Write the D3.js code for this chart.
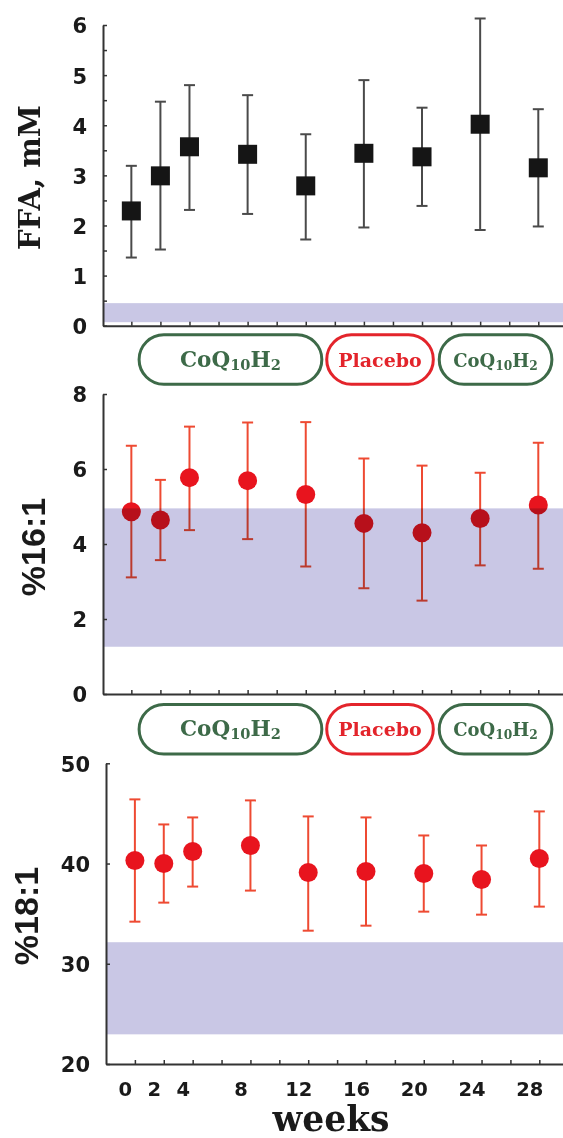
<!DOCTYPE html>
<html>
<head>
<meta charset="utf-8">
<script src="https://cdn.jsdelivr.net/npm/d3@7"></script>
<style>
  body { margin: 0; background: #fff; }
  svg { display: block; }
</style>
</head>
<body>
<div id="chart"></div>
<script>
// weeks of sampling
const weeks = [0, 2, 4, 8, 12, 16, 20, 24, 28]

// FFA, mM
const ffaMean = [2.29, 2.99, 3.57, 3.42, 2.79, 3.44, 3.37, 4.02, 3.15]
const ffaLow = [1.36, 1.52, 2.31, 2.23, 1.72, 1.96, 2.39, 1.91, 1.98]
const ffaHigh = [3.19, 4.47, 4.80, 4.60, 3.82, 4.90, 4.35, 6.13, 4.32]

// %16:1
const p161Mean = [4.86, 4.64, 5.77, 5.69, 5.32, 4.55, 4.30, 4.68, 5.04]
const p161Low = [3.11, 3.57, 4.37, 4.13, 3.40, 2.82, 2.49, 3.43, 3.34]
const p161High = [6.62, 5.71, 7.13, 7.24, 7.25, 6.28, 6.09, 5.90, 6.70]

// %18:1
const p181Mean = [40.3, 40.0, 41.2, 41.8, 39.1, 39.2, 39.0, 38.4, 40.5]
const p181Low = [34.2, 36.1, 37.7, 37.3, 33.3, 33.8, 35.2, 34.9, 35.7]
const p181High = [46.4, 43.9, 44.6, 46.3, 44.7, 44.6, 42.8, 41.8, 45.2]

// reference ranges (shaded bands)
const ffaRef = [0.07, 0.45]
const p161Ref = [1.26, 4.95]
const p181Ref = [22.96, 32.15]

// axis ticks
const ffaTicks = d3.range(0, 6.01, 0.5)
const p161Ticks = [0, 2, 4, 6, 8]
const p181Ticks = [20, 30, 40, 50]
const weekTicks = d3.range(0, 29, 2)
const weekLabels = [0, 2, 4, 8, 12, 16, 20, 24, 28]

// treatment phases (weeks)
const phaseNames = ['CoQ10H2', 'Placebo', 'CoQ10H2']
const phaseStart = [0.43, 13.34, 21.08]
const phaseEnd = [13.21, 20.88, 29.04]
const phaseSize = [21.5, 19, 18]

const width = 563
const height = 1138
const green = '#3d6a48'
const red = '#e3242b'

const svg = d3.select('#chart').append('svg')
  .attr('width', width)
  .attr('height', height)

const panels = [
  {
    mean: ffaMean, low: ffaLow, high: ffaHigh, ref: ffaRef, ticks: ffaTicks,
    yDomain: [0, 6], yRange: [325.7, 25], xDomain: [-1.95, 29.7], xRange: [103, 563],
    marker: 'square', title: 'FFA, mM', titleFont: 'DejaVu Serif', titleSize: 29,
    titleX: 40, titleY: 177.5, barColor: '#4a4a4a', showX: false
  },
  {
    mean: p161Mean, low: p161Low, high: p161High, ref: p161Ref, ticks: p161Ticks,
    yDomain: [0, 8], yRange: [694, 394], xDomain: [-1.95, 29.7], xRange: [103, 563],
    marker: 'circle', title: '%16:1', titleFont: 'Liberation Sans', titleSize: 34,
    titleX: 44.5, titleY: 547, barColor: '#ee4a32', showX: false, pillsTop: 333.3
  },
  {
    mean: p181Mean, low: p181Low, high: p181High, ref: p181Ref, ticks: p181Ticks,
    yDomain: [20, 50], yRange: [1064, 763.3], xDomain: [-2.0, 29.64], xRange: [106, 563],
    marker: 'circle', title: '%18:1', titleFont: 'Liberation Sans', titleSize: 34,
    titleX: 38, titleY: 916, barColor: '#ee4a32', showX: true, pillsTop: 703
  }
]

// pills are laid out on the shared scale of the upper panels
const xPills = d3.scaleLinear().domain(panels[1].xDomain).range(panels[1].xRange)

function drawPills (top) {
  const h = 52.5
  const g = svg.append('g')
  phaseNames.forEach((name, i) => {
    const x0 = xPills(phaseStart[i])
    const x1 = xPills(phaseEnd[i])
    const col = name === 'Placebo' ? red : green
    g.append('rect')
      .attr('x', x0 + 1.5)
      .attr('y', top + 1.5)
      .attr('width', x1 - x0 - 3)
      .attr('height', h - 3)
      .attr('rx', (h - 3) / 2)
      .attr('fill', 'none')
      .attr('stroke', col)
      .attr('stroke-width', 3)
    const t = g.append('text')
      .attr('x', (x0 + x1) / 2)
      .attr('y', top + h / 2 + 7)
      .attr('text-anchor', 'middle')
      .attr('font-family', 'DejaVu Serif')
      .attr('font-weight', 'bold')
      .attr('font-size', phaseSize[i])
      .attr('fill', col)
    // digits are set as subscripts
    const parts = name.match(/\d+|\D+/g)
    let low = false
    parts.forEach(p => {
      const sub = /\d/.test(p)
      const ts = t.append('tspan').text(p)
      if (sub) {
        ts.attr('font-size', phaseSize[i] * 0.68).attr('dy', 3)
        low = true
      } else if (low) {
        ts.attr('dy', -3)
        low = false
      }
    })
  })
}

panels.forEach(p => {
  const x = d3.scaleLinear().domain(p.xDomain).range(p.xRange)
  const y = d3.scaleLinear().domain(p.yDomain).range(p.yRange)
  const g = svg.append('g')

  const rows = weeks.map((w, i) => ({ w, m: p.mean[i], lo: p.low[i], hi: p.high[i] }))

  // error bars
  const bars = g.append('g')
    .attr('stroke', p.barColor)
    .attr('stroke-width', 2)
  bars.selectAll('line.v').data(rows).enter().append('line')
    .attr('x1', d => x(d.w)).attr('x2', d => x(d.w))
    .attr('y1', d => y(d.lo)).attr('y2', d => y(d.hi))
  bars.selectAll('line.hi').data(rows).enter().append('line')
    .attr('x1', d => x(d.w) - 5.5).attr('x2', d => x(d.w) + 5.5)
    .attr('y1', d => y(d.hi)).attr('y2', d => y(d.hi))
  bars.selectAll('line.lo').data(rows).enter().append('line')
    .attr('x1', d => x(d.w) - 5.5).attr('x2', d => x(d.w) + 5.5)
    .attr('y1', d => y(d.lo)).attr('y2', d => y(d.lo))

  // markers
  if (p.marker === 'square') {
    g.selectAll('rect.pt').data(rows).enter().append('rect')
      .attr('x', d => x(d.w) - 9.5)
      .attr('y', d => y(d.m) - 9.5)
      .attr('width', 19)
      .attr('height', 19)
      .attr('fill', '#151515')
  } else {
    g.selectAll('circle').data(rows).enter().append('circle')
      .attr('cx', d => x(d.w))
      .attr('cy', d => y(d.m))
      .attr('r', 9.5)
      .attr('fill', '#e8141e')
  }

  // reference band, multiplied over the marks
  g.append('rect')
    .attr('x', x.range()[0])
    .attr('width', x.range()[1] - x.range()[0])
    .attr('y', y(p.ref[1]))
    .attr('height', y(p.ref[0]) - y(p.ref[1]))
    .attr('fill', '#c9c7e5')
    .style('mix-blend-mode', 'multiply')

  // y axis
  const yAxis = g.append('g')
    .attr('transform', `translate(${x.range()[0]},0)`)
    .call(d3.axisLeft(y)
      .tickValues(p.ticks)
      .tickSize(-4)
      .tickSizeOuter(0)
      .tickPadding(16)
      .tickFormat(d => Number.isInteger(d) ? d : ''))
  yAxis.selectAll('text')
    .attr('font-family', 'DejaVu Sans')
    .attr('font-weight', 'bold')
    .attr('font-size', 21)
    .attr('fill', '#1a1a1a')
    .attr('dy', '0.38em')

  // x axis
  const xAxis = g.append('g')
    .attr('transform', `translate(0,${y.range()[0]})`)
    .call(d3.axisBottom(x)
      .tickValues(weekTicks)
      .tickSize(-4)
      .tickSizeOuter(0)
      .tickPadding(18)
      .tickFormat(d => (p.showX && weekLabels.includes(d)) ? d : ''))
  xAxis.selectAll('text')
    .attr('font-family', 'DejaVu Sans')
    .attr('font-weight', 'bold')
    .attr('font-size', 19.5)
    .attr('fill', '#1a1a1a')
    .attr('dx', -10)

  g.selectAll('.domain').attr('stroke', '#333').attr('stroke-width', 2)
  g.selectAll('.tick line').attr('stroke', '#333').attr('stroke-width', 1.5)

  // y title
  g.append('text')
    .attr('transform', `translate(${p.titleX},${p.titleY}) rotate(-90)`)
    .attr('text-anchor', 'middle')
    .attr('font-family', p.titleFont)
    .attr('font-weight', 'bold')
    .attr('font-size', p.titleSize)
    .attr('fill', '#1a1a1a')
    .text(p.title)

  if (p.pillsTop) drawPills(p.pillsTop)
})

svg.append('text')
  .attr('x', 331)
  .attr('y', 1131)
  .attr('text-anchor', 'middle')
  .attr('font-family', 'DejaVu Serif')
  .attr('font-weight', 'bold')
  .attr('font-size', 34.5)
  .attr('fill', '#1a1a1a')
  .text('weeks')
</script>
</body>
</html>
